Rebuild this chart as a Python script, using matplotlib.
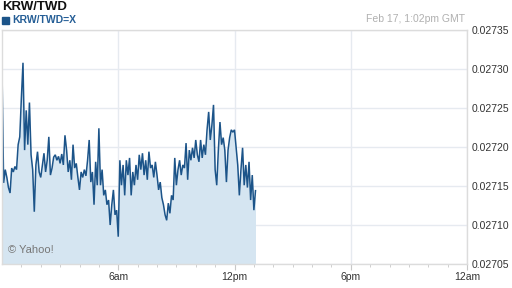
import numpy as np
import matplotlib
matplotlib.use("Agg")
import matplotlib.pyplot as plt

plt.rcParams['font.family'] = ['Liberation Sans', 'DejaVu Sans']

# KRW/TWD intraday, 5-minute samples from midnight GMT
rate = [
    0.027300, 0.027154, 0.027171, 0.027161, 0.027148, 0.027141, 0.027173, 0.027168,
    0.027175, 0.027171, 0.027203, 0.027213, 0.027263, 0.027308, 0.027196, 0.027247,
    0.027203, 0.027257, 0.027190, 0.027171, 0.027117, 0.027177, 0.027194, 0.027168,
    0.027161, 0.027177, 0.027192, 0.027168, 0.027183, 0.027213, 0.027164, 0.027173,
    0.027187, 0.027190, 0.027183, 0.027188, 0.027179, 0.027191, 0.027177, 0.027215,
    0.027196, 0.027168, 0.027183, 0.027158, 0.027203, 0.027173, 0.027179, 0.027161,
    0.027145, 0.027168, 0.027161, 0.027171, 0.027163, 0.027183, 0.027209, 0.027155,
    0.027168, 0.027126, 0.027181, 0.027151, 0.027224, 0.027151, 0.027171, 0.027138,
    0.027145, 0.027126, 0.027132, 0.027100, 0.027126, 0.027145, 0.027113, 0.027119,
    0.027085, 0.027183, 0.027151, 0.027177, 0.027138, 0.027183, 0.027164, 0.027186,
    0.027138, 0.027168, 0.027151, 0.027177, 0.027158, 0.027190, 0.027171, 0.027192,
    0.027164, 0.027183, 0.027158, 0.027194, 0.027173, 0.027177, 0.027161, 0.027181,
    0.027164, 0.027145, 0.027155, 0.027135, 0.027126, 0.027113, 0.027106, 0.027128,
    0.027115, 0.027138, 0.027132, 0.027186, 0.027151, 0.027171, 0.027183, 0.027164,
    0.027177, 0.027173, 0.027205, 0.027158, 0.027196, 0.027183, 0.027199, 0.027186,
    0.027209, 0.027190, 0.027181, 0.027209, 0.027186, 0.027203, 0.027190, 0.027222,
    0.027245, 0.027209, 0.027228, 0.027254, 0.027171, 0.027151, 0.027196, 0.027232,
    0.027203, 0.027212, 0.027196, 0.027155, 0.027196, 0.027212, 0.027222, 0.027219,
    0.027222, 0.027199, 0.027177, 0.027138, 0.027171, 0.027199, 0.027151, 0.027177,
    0.027148, 0.027181, 0.027132, 0.027164, 0.027119, 0.027144,
]
step_min = 5
hours = np.arange(len(rate)) * step_min / 60.0

yticks = [0.02705, 0.02710, 0.02715, 0.02720, 0.02725, 0.02730, 0.02735]
xticks = [6, 12, 18, 24]
xlabels = ["6am", "12pm", "6pm", "12am"]

line_col = "#1c5489"
fill_col = "#d5e5f1"
grid_col = "#e6eaf0"

fig = plt.figure(figsize=(5.12, 2.88), dpi=100)
ax = fig.add_axes([2 / 512, 1 - 264 / 288, 465 / 512, 234 / 288])

ax.fill_between(hours, rate, yticks[0], color=fill_col, lw=0)
ax.plot(hours, rate, color=line_col, lw=1.1, solid_joinstyle="miter")

ax.set_xlim(0, 24)
ax.set_ylim(yticks[0], yticks[-1])
ax.set_yticks(yticks)
ax.set_yticklabels(["%.5f" % v for v in yticks])
ax.set_xticks(xticks)
ax.set_xticklabels(xlabels)
ax.set_xticks(np.arange(1, 24), minor=True)
ax.yaxis.tick_right()
ax.tick_params(axis="y", length=0, pad=3, labelsize=7.5, labelcolor="#333333")
ax.tick_params(axis="x", which="major", length=4, color="#c8c8c8", pad=2,
               labelsize=7.5, labelcolor="#333333")
ax.tick_params(axis="x", which="minor", length=2, color="#c8c8c8")
ax.grid(True, color=grid_col, lw=1)
ax.set_axisbelow(True)
for s in ax.spines.values():
    s.set_color("#dcdcdc")
    s.set_linewidth(1)

fig.text(2 / 512, 1 - 1 / 288, "KRW/TWD", fontsize=9.5, fontweight="bold",
         color="#111111", va="top", ha="left")
fig.patches.append(plt.Rectangle((2 / 512, 1 - 24 / 288), 7 / 512, 7 / 288,
                                 transform=fig.transFigure, color=line_col))
fig.text(12 / 512, 1 - 15 / 288, "KRW/TWD=X", fontsize=7.5, fontweight="bold",
         color="#255e96", va="top", ha="left")
fig.text(465 / 512, 1 - 14 / 288, "Feb 17, 1:02pm GMT", fontsize=7.5,
         color="#b0b0b0", va="top", ha="right")
ax.text(0.012, 0.04, "\u00a9 Yahoo!", transform=ax.transAxes, fontsize=8,
        color="#777777", va="bottom", ha="left")

fig.savefig("out.png", dpi=100)
